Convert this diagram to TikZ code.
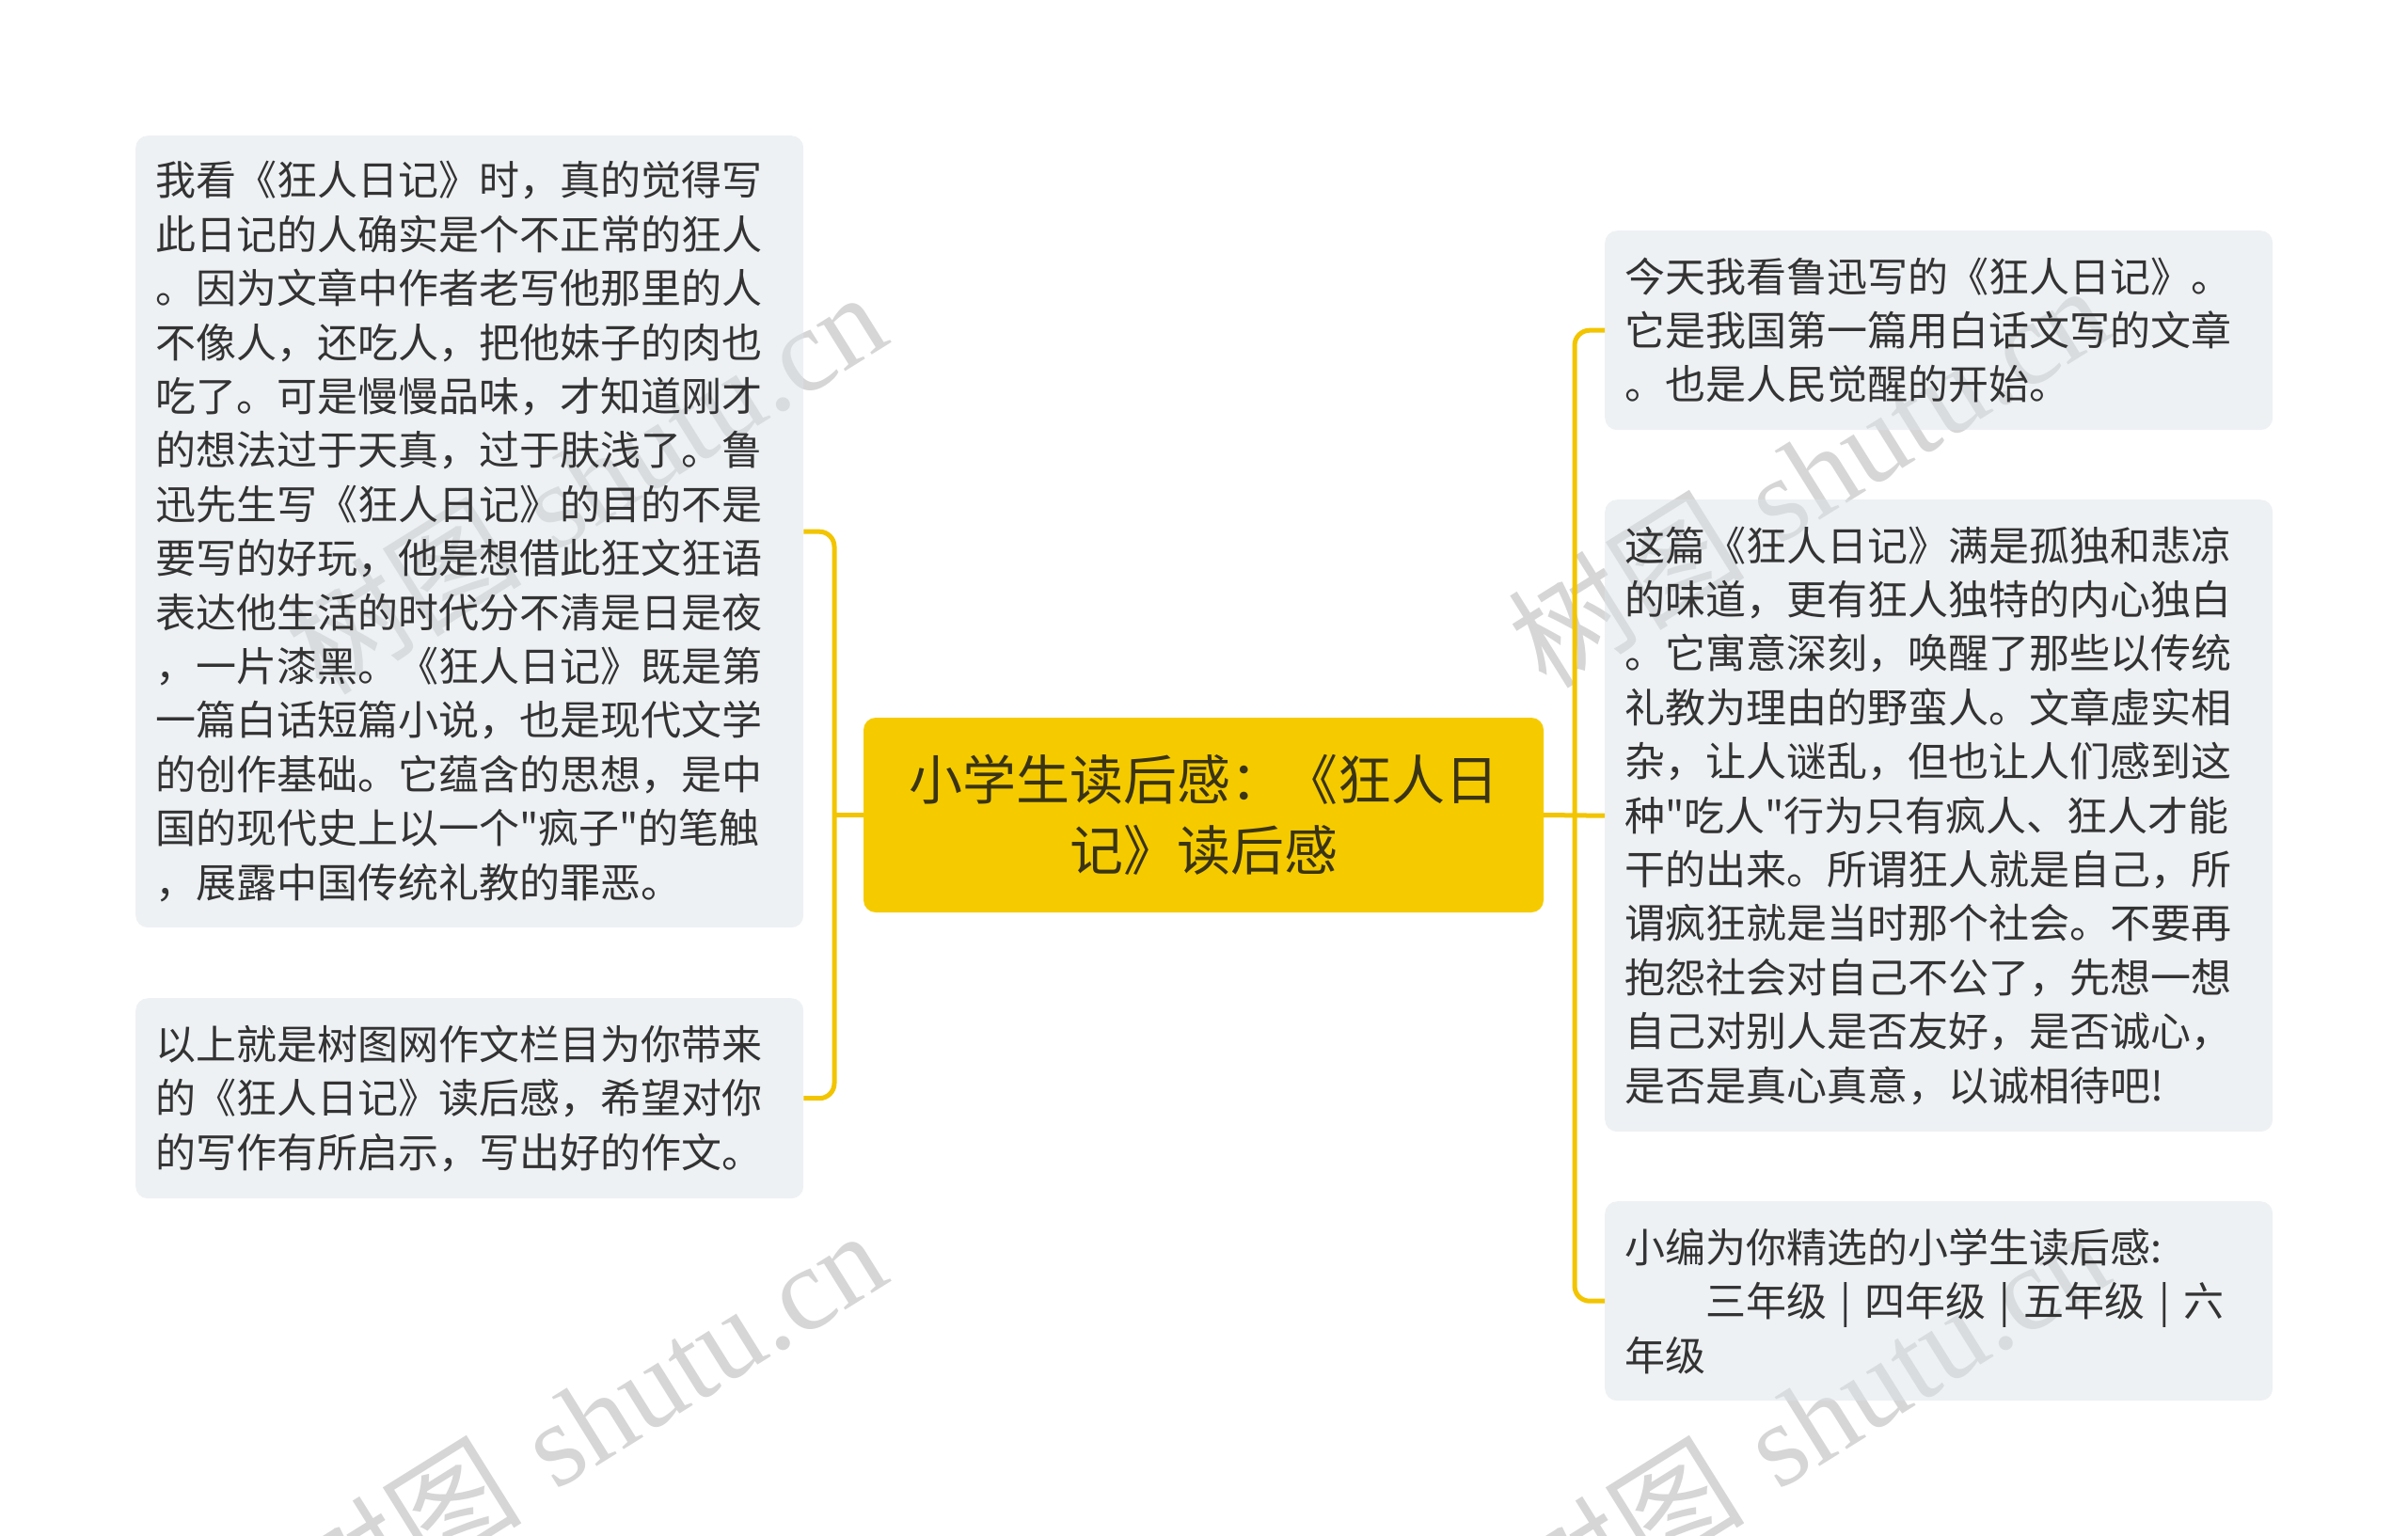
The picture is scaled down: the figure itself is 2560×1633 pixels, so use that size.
\documentclass[tikz,border=0pt]{standalone}
\usepackage{fontspec}
\newfontfamily\cjk{Noto Sans CJK SC}
\newfontfamily\wmserif{Liberation Serif}
\definecolor{boxgray}{HTML}{DDE3E9}
\definecolor{rootyellow}{HTML}{F5CB00}
\definecolor{linkyellow}{HTML}{F2C500}
\definecolor{inktext}{HTML}{333333}
\definecolor{rootink}{HTML}{3A3414}
\definecolor{wmgray}{HTML}{D6D6D6}
\begin{document}
\begin{tikzpicture}[x=1pt,y=-1pt,
  leaf/.style={anchor=north west,fill=boxgray,fill opacity=0.5,text opacity=1,
    rounded corners=13pt,inner xsep=21pt,inner ysep=0pt,text width=668pt,
    align=left,text=inktext,font=\cjk\fontsize{43pt}{57.4pt}\selectfont},
  root/.style={fill=rootyellow,rounded corners=13pt,minimum width=723pt,
    minimum height=207pt,align=center,text=rootink,
    font=\cjk\fontsize{57pt}{75pt}\selectfont},
  link/.style={draw=linkyellow,line width=5pt},
  wmark/.style={text=wmgray,rotate=32,font=\fontsize{126pt}{126pt}\selectfont}]
\useasboundingbox (0,0) rectangle (2560,1633);
%%% watermarks
\node[wmark] (wmUL) at (622,512) {{\cjk 树图} {\wmserif shutu.cn}};
\node[wmark] (wmUR) at (1922,505) {{\cjk 树图} {\wmserif shutu.cn}};
\node[wmark] (wmLL) at (622,1510) {{\cjk 树图} {\wmserif shutu.cn}};
\node[wmark] (wmLR) at (1922,1510) {{\cjk 树图} {\wmserif shutu.cn}};
%%% the root
\node[root] (root) at (1279.5,866.5) {小学生读后感：《狂人日\\记》读后感};
%%% left side
\node[leaf,minimum height=842pt] (leftA) at (144,144) {我看《狂人日记》时，真的觉得写\\
此日记的人确实是个不正常的狂人\\
。因为文章中作者老写他那里的人\\
不像人，还吃人，把他妹子的肉也\\
吃了。可是慢慢品味，才知道刚才\\
的想法过于天真，过于肤浅了。鲁\\
迅先生写《狂人日记》的目的不是\\
要写的好玩，他是想借此狂文狂语\\
表达他生活的时代分不清是日是夜\\
，一片漆黑。《狂人日记》既是第\\
一篇白话短篇小说，也是现代文学\\
的创作基础。它蕴含的思想，是中\\
国的现代史上以一个"疯子"的笔触\\
，展露中国传统礼教的罪恶。};
\node[leaf,minimum height=213pt] (leftB) at (144,1061) {以上就是树图网作文栏目为你带来\\
的《狂人日记》读后感，希望对你\\
的写作有所启示，写出好的作文。};
%%% right side
\node[leaf,minimum height=212pt] (rightA) at (1706,245) {今天我看鲁迅写的《狂人日记》。\\
它是我国第一篇用白话文写的文章\\
。也是人民觉醒的开始。};
\node[leaf,minimum height=672pt] (rightB) at (1706,531) {这篇《狂人日记》满是孤独和悲凉\\
的味道，更有狂人独特的内心独白\\
。它寓意深刻，唤醒了那些以传统\\
礼教为理由的野蛮人。文章虚实相\\
杂，让人谜乱，但也让人们感到这\\
种"吃人"行为只有疯人、狂人才能\\
干的出来。所谓狂人就是自己，所\\
谓疯狂就是当时那个社会。不要再\\
抱怨社会对自己不公了，先想一想\\
自己对别人是否友好，是否诚心，\\
是否是真心真意，以诚相待吧!};
\node[leaf,minimum height=212pt] (rightC) at (1706,1277) {小编为你精选的小学生读后感:\\
\hspace*{2em}三年级 | 四年级 | 五年级 | 六\\
年级};
%%% connectors
\coordinate (lspine) at (887,866.5);
\coordinate (rspine) at (1674,866.5);
\draw[link] (root.west) -- (lspine);
\draw[link,rounded corners=16pt] (leftA.east) -| (lspine) |- (leftB.east);
\draw[link] (root.east) -- (rightB.west);
\draw[link,rounded corners=16pt] (rightA.west) -| (rspine) |- (rightC.west);
\end{tikzpicture}
\end{document}
